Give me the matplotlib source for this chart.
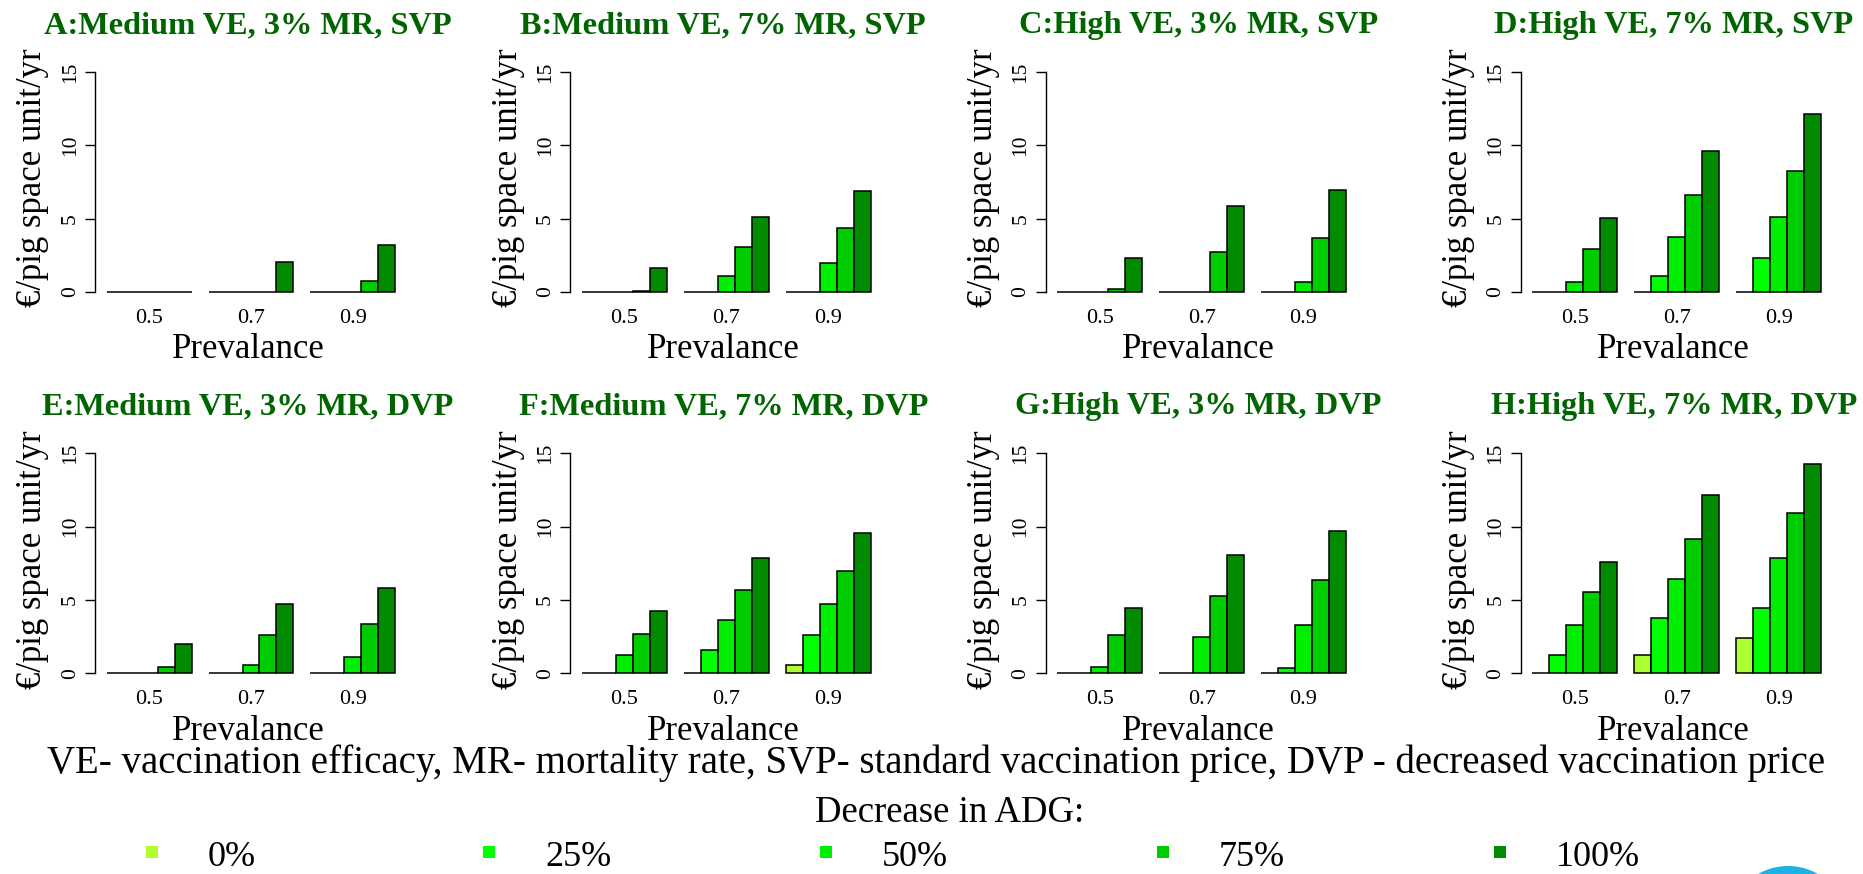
import matplotlib.pyplot as plt
from matplotlib.patches import Rectangle, Circle
import numpy as np

plt.rcParams['font.family'] = 'serif'
plt.rcParams['font.serif'] = ['Liberation Serif', 'DejaVu Serif']

# values: one row per prevalence, columns = decrease in ADG 0%..100%
prevalence = ["0.5", "0.7", "0.9"]
adg_labels = ["0%", "25%", "50%", "75%", "100%"]
adg_colors = ["#ADFF2F", "#00FF00", "#00EE00", "#00CD00", "#008B00"]

titles = [
    "A:Medium VE, 3% MR, SVP", "B:Medium VE, 7% MR, SVP",
    "C:High VE, 3% MR, SVP", "D:High VE, 7% MR, SVP",
    "E:Medium VE, 3% MR, DVP", "F:Medium VE, 7% MR, DVP",
    "G:High VE, 3% MR, DVP", "H:High VE, 7% MR, DVP",
]

panel_a = [[0, 0, 0, 0, 0], [0, 0, 0, 0, 2.05], [0, 0, 0, 0.77, 3.2]]
panel_b = [[0, 0, 0, 0.05, 1.64], [0, 0, 1.07, 3.09, 5.13], [0, 0, 2.0, 4.34, 6.87]]
panel_c = [[0, 0, 0, 0.23, 2.34], [0, 0, 0, 2.73, 5.84], [0, 0, 0.70, 3.68, 6.95]]
panel_d = [[0, 0, 0.70, 2.91, 5.02], [0, 1.09, 3.77, 6.59, 9.61], [0, 2.34, 5.14, 8.23, 12.11]]
panel_e = [[0, 0, 0, 0.46, 2.03], [0, 0, 0.57, 2.62, 4.72], [0, 0, 1.14, 3.37, 5.83]]
panel_f = [[0, 0, 1.23, 2.69, 4.24], [0, 1.62, 3.64, 5.69, 7.83], [0.55, 2.6, 4.74, 6.95, 9.57]]
panel_g = [[0, 0, 0.46, 2.6, 4.44], [0, 0, 2.48, 5.30, 8.1], [0, 0.36, 3.30, 6.37, 9.67]]
panel_h = [[0, 1.25, 3.3, 5.52, 7.61], [1.25, 3.77, 6.41, 9.18, 12.18], [2.43, 4.43, 7.84, 10.93, 14.3]]
panels = [panel_a, panel_b, panel_c, panel_d, panel_e, panel_f, panel_g, panel_h]

footnote = ("VE- vaccination efficacy, MR- mortality rate, SVP- standard vaccination price, "
            "DVP - decreased vaccination price")

W, H = 1863, 874
fig = plt.figure(figsize=(W / 100, H / 100), dpi=100)

def fx(x):
    return x / W

def fy(y):
    # y measured from the top in pixels
    return 1 - y / H

title_color = "#006400"
col_step = 475.3
row_step = 381.3
ax_w = 312.0
ax_top, ax_bot = 63.2, 300.8

for k, vals in enumerate(panels):
    r, c = divmod(k, 4)
    left = 95 + c * col_step
    top = ax_top + r * row_step
    bot = ax_bot + r * row_step
    ax = fig.add_axes([fx(left), fy(bot), fx(ax_w), (bot - top) / H])

    vals = np.array(vals)
    for g in range(vals.shape[0]):
        for j in range(vals.shape[1]):
            ax.bar(1 + g * 6 + j, vals[g, j], width=1, align='edge',
                   color=adg_colors[j], edgecolor='black', linewidth=1.1)

    ax.set_xlim(0.32, 18.68)
    ax.set_ylim(-0.6, 15.6)
    for s in ['top', 'right', 'bottom']:
        ax.spines[s].set_visible(False)
    ax.spines['left'].set_bounds(0, 15)
    ax.spines['left'].set_linewidth(1.0)
    ax.set_yticks([0, 5, 10, 15])
    ax.tick_params(axis='y', length=7, width=1.0, labelsize=15.5, pad=4,
                   labelrotation=90)
    for lab in ax.get_yticklabels():
        lab.set_verticalalignment('center')
    ax.set_xticks([3.5, 9.5, 15.5])
    ax.set_xticklabels(prevalence)
    ax.tick_params(axis='x', length=0, labelsize=16, pad=6)

    cx = left + ax_w / 2
    fig.text(fx(cx - 3), fy(33 + r * row_step), titles[k], color=title_color,
             fontsize=23.3, fontweight='bold', ha='center', va='baseline')
    fig.text(fx(cx - 3), fy(350 + r * row_step), "Prevalance", fontsize=25,
             ha='center', va='center')
    fig.text(fx(left - 62), fy(178 + r * row_step), "€/pig space unit/yr",
             fontsize=25, rotation=90, ha='center', va='center')

fig.text(fx(936), fy(773), footnote, fontsize=28, ha='center', va='baseline')
fig.text(fx(950), fy(822), "Decrease in ADG:", fontsize=26.5, ha='center',
         va='baseline')

# legend row
for i, (lab, col) in enumerate(zip(adg_labels, adg_colors)):
    sx = 152 + i * 337
    fig.add_artist(Rectangle((fx(sx - 6), fy(858)), fx(12), 12 / H,
                             facecolor=col, edgecolor='none',
                             transform=fig.transFigure))
    fig.text(fx(sx + 56), fy(866), lab, fontsize=26, ha='left', va='baseline')

fig.add_artist(Circle((17.88, -0.52), 0.6, facecolor="#1BB3E3",
                      edgecolor='none', transform=fig.dpi_scale_trans))

fig.savefig("out.png", dpi=100)
